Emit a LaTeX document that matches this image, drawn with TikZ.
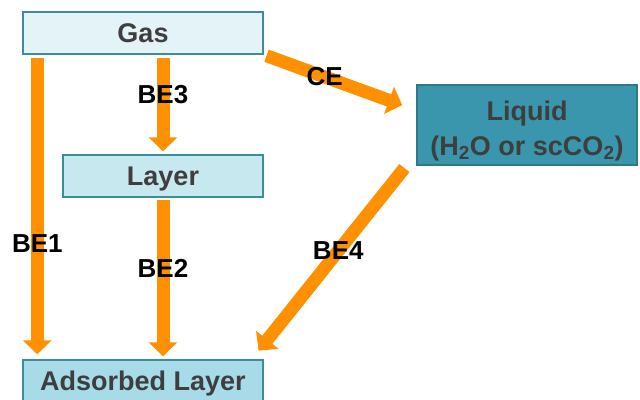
\documentclass[tikz,border=0pt]{standalone}
\usepackage{fontspec}
\setmainfont{Liberation Sans}
\usepackage{tikz}
\usetikzlibrary{arrows.meta,positioning}
\definecolor{flowor}{RGB}{255,145,0}
\definecolor{boxline}{RGB}{58,140,158}
\definecolor{boxtext}{RGB}{62,62,62}
\tikzset{
  box/.style={draw=boxline, line width=1.4pt, rectangle, align=center,
              inner sep=0pt, text=boxtext, text height=19.3pt, text depth=0pt,
              font=\fontsize{27}{34.3}\selectfont\bfseries},
  gasbox/.style={box, fill={rgb,255:red,228;green,243;blue,248},
                 minimum width=240pt, minimum height=42pt},
  layerbox/.style={box, fill={rgb,255:red,200;green,232;blue,240},
                   minimum width=200pt, minimum height=42pt},
  adsbox/.style={box, fill={rgb,255:red,168;green,219;blue,232},
                 minimum width=240pt, minimum height=42pt},
  liqbox/.style={box, draw={rgb,255:red,45;green,120;blue,138},
                 fill={rgb,255:red,58;green,150;blue,173}, text height=60pt,
                 minimum width=220pt, minimum height=80pt},
  flow/.style={draw=flowor, line width=13pt,
               -{Triangle[width=28pt,length=14pt]}},
  lab/.style={text=black, font=\fontsize{26}{30}\selectfont\bfseries, inner sep=0pt},
}
\begin{document}
\begin{tikzpicture}[x=1pt,y=-1pt]
  \clip (0,0) rectangle (640,399);
  % boxes
  \node[gasbox]   (gas)    at (143,33)  {Gas};
  \node[layerbox] (layer)  at (163,176) {Layer};
  \node[adsbox]   (ads)    at (143,381) {Adsorbed Layer};
  \node[liqbox]   (liquid) at (527,125) {Liquid\\(H\textsubscript{2}O or scCO\textsubscript{2})};
  % arrows
  \draw[flow, shorten <=3pt, shorten >=5pt]
    ([xshift=15pt]gas.south west) -- ([xshift=15pt]ads.north west)
    node[lab, pos=0.62] (be1) {BE1};
  \draw[flow, shorten <=3pt, shorten >=3pt]
    (gas.south -| layer) -- (layer.north)
    node[lab, pos=0.40] (be3) {BE3};
  \draw[flow, shorten <=2pt, shorten >=3pt]
    (layer.south) -- (ads.north -| layer)
    node[lab, pos=0.44] (be2) {BE2};
  \draw[flow, shorten <=3pt, shorten >=15pt]
    (gas.south east) -- ([yshift=-26pt]liquid.north west)
    node[lab, pos=0.40] (ce) {CE};
  \draw[flow, shorten <=3pt, shorten >=11pt]
    ([xshift=-10pt]liquid.south west) -- ([xshift=-12pt]ads.north east)
    node[lab, pos=0.44] (be4) {BE4};
\end{tikzpicture}
\end{document}
